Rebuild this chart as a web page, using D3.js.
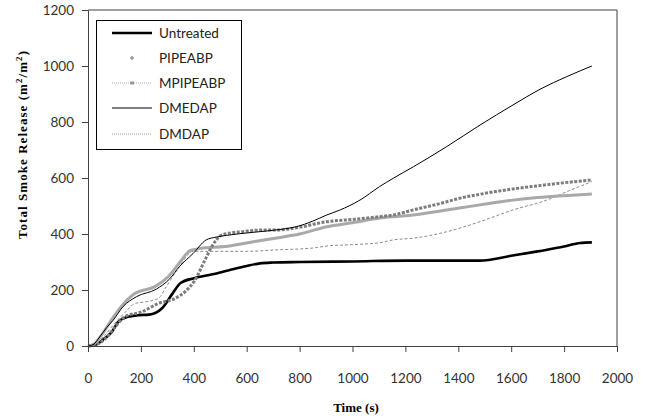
<!DOCTYPE html>
<html><head><meta charset="utf-8">
<script src="https://cdn.jsdelivr.net/npm/d3@7"></script>
<style>body{margin:0;background:#fff}svg{display:block}</style>
</head><body>
<script>
const xTicks=[0,200,400,600,800,1000,1200,1400,1600,1800,2000];
const yTicks=[0,200,400,600,800,1000,1200];
const seriesNames=["Untreated","PIPEABP","MPIPEABP","DMEDAP","DMDAP"];
const untreatedT=[0,30,60,90,115,150,190,230,280,320,350,400,470,530,600,650,700,800,1000,1200,1480,1600,1700,1800,1860,1905];
const untreatedV=[0,5,25,50,87,104,110,112,135,188,225,242,256,270,286,295,298,300,302,305,305,322,338,355,368,370];
const pipeabpT=[0,30,64,100,140,203,266,329,367,405,442,468,505,548,581,650,707,788,903,1000,1104,1154,1230,1356,1394,1500,1600,1700,1800,1905];
const pipeabpV=[0,5,25,65,105,122,152,170,194,236,307,355,396,405,408,414,414,422,444,452,462,468,486,515,525,545,560,572,583,593];
const mpipeabpT=[0,20,40,64,90,115,178,253,304,354,384,405,435,518,600,707,800,903,1000,1104,1154,1230,1356,1482,1607,1700,1800,1905];
const mpipeabpV=[0,5,25,57,95,128,188,212,248,307,340,345,350,355,368,385,400,426,440,457,462,468,486,504,521,530,537,543];
const dmedapT=[0,20,44,70,95,132,183,258,309,346,397,447,485,523,624,725,788,850,903,951,1028,1102,1154,1230,1356,1482,1607,1709,1810,1905];
const dmedapV=[0,5,32,65,92,140,176,203,240,284,330,379,389,395,406,416,426,446,468,485,521,569,599,640,712,789,861,917,962,1000];
const dmdapT=[0,30,60,100,140,178,220,266,296,340,397,450,598,707,850,903,1000,1104,1154,1230,1356,1482,1607,1734,1820,1905];
const dmdapV=[0,8,35,80,120,152,158,170,212,275,338,338,338,343,350,357,362,369,379,385,408,444,486,521,555,587];

const W=645,H=419;
const m={l:88,r:617,t:10,b:346};
const svg=d3.select("body").append("svg").attr("width",W).attr("height",H);
const x=d3.scaleLinear().domain([0,2000]).range([m.l,m.r]);
const y=d3.scaleLinear().domain([0,1200]).range([m.b,m.t]);

const styles=[
 {t:untreatedT,v:untreatedV,stroke:"#000",w:2.6,dash:null},
 {t:dmdapT,v:dmdapV,stroke:"#8c8c8c",w:1,dash:"3,2"},
 {t:mpipeabpT,v:mpipeabpV,stroke:"#a9a9a9",w:3,dash:null},
 {t:pipeabpT,v:pipeabpV,stroke:"#7c7c7c",w:3,dash:"3,1.5"},
 {t:dmedapT,v:dmedapV,stroke:"#000",w:1,dash:null}
];
const line=d3.line().x(d=>x(d[0])).y(d=>y(d[1])).curve(d3.curveMonotoneX);
styles.forEach(s=>{
  svg.append("path").datum(s.t.map((t,i)=>[t,s.v[i]]))
   .attr("d",line).attr("fill","none").attr("stroke",s.stroke)
   .attr("stroke-width",s.w).attr("stroke-dasharray",s.dash);
});

svg.append("path").attr("d",`M${m.l},${m.t}H${m.r}V${m.b}`).attr("fill","none").attr("stroke","#404040").attr("stroke-width",1);

const tickFont="Lato, 'Open Sans', sans-serif";
const fmt=d3.format("d");
const xa=svg.append("g").attr("transform",`translate(0,${m.b})`)
 .call(d3.axisBottom(x).tickValues(xTicks).tickFormat(fmt).tickSize(6).tickPadding(21).tickSizeOuter(0));
const ya=svg.append("g").attr("transform",`translate(${m.l},0)`)
 .call(d3.axisLeft(y).tickValues(yTicks).tickFormat(fmt).tickSize(6).tickPadding(8).tickSizeOuter(0));
[xa,ya].forEach(a=>{
 a.select(".domain").attr("stroke","#404040");
 a.selectAll(".tick line").attr("stroke","#404040");
 a.selectAll("text").attr("font-family",tickFont).attr("font-size",13.5).attr("fill","#333");
});

svg.append("text").attr("x",356).attr("y",412).attr("text-anchor","middle")
 .attr("font-family","'Liberation Serif', serif").attr("font-weight","bold").attr("font-size",13)
 .text("Time (s)");
const yt=svg.append("text").attr("transform",`translate(27,145) rotate(-90)`).attr("text-anchor","middle")
 .attr("font-family","'Liberation Serif', serif").attr("font-weight","bold").attr("font-size",13)
 .attr("textLength",188).attr("lengthAdjust","spacing");
yt.append("tspan").text("Total Smoke  Release (m");
yt.append("tspan").attr("font-size",9).attr("dy",-5).text("2");
yt.append("tspan").attr("dy",5).text("/m");
yt.append("tspan").attr("font-size",9).attr("dy",-5).text("2");
yt.append("tspan").attr("dy",5).text(")");

const lg=svg.append("g");
lg.append("rect").attr("x",96.5).attr("y",20.5).attr("width",145).attr("height",129)
 .attr("fill","#fff").attr("stroke","#000").attr("stroke-width",1);
const ly=[33,58,83,108,134];
const lx1=112,lx2=152;
seriesNames.forEach((n,i)=>{
  const yy=ly[i];
  if(i===0) lg.append("line").attr("x1",lx1).attr("x2",lx2).attr("y1",yy).attr("y2",yy).attr("stroke","#000").attr("stroke-width",2.6);
  if(i===1){ lg.append("path").attr("d",`M${(lx1+lx2)/2-2},${yy}h4M${(lx1+lx2)/2},${yy-2}v4`).attr("stroke","#777").attr("stroke-width",1);}
  if(i===2){ lg.append("line").attr("x1",lx1).attr("x2",lx2).attr("y1",yy).attr("y2",yy).attr("stroke","#aaa").attr("stroke-width",1).attr("stroke-dasharray","1,1");
    lg.append("rect").attr("x",(lx1+lx2)/2-2).attr("y",yy-1.5).attr("width",4).attr("height",3).attr("fill","#999");}
  if(i===3) lg.append("line").attr("x1",lx1).attr("x2",lx2).attr("y1",yy).attr("y2",yy).attr("stroke","#000").attr("stroke-width",1);
  if(i===4) lg.append("line").attr("x1",lx1).attr("x2",lx2).attr("y1",yy).attr("y2",yy).attr("stroke","#999").attr("stroke-width",1).attr("stroke-dasharray","1,1");
  lg.append("text").attr("x",159).attr("y",yy+4.5).attr("font-family",tickFont).attr("font-size",13.5).attr("fill","#222").text(n);
});
</script>
</body></html>
